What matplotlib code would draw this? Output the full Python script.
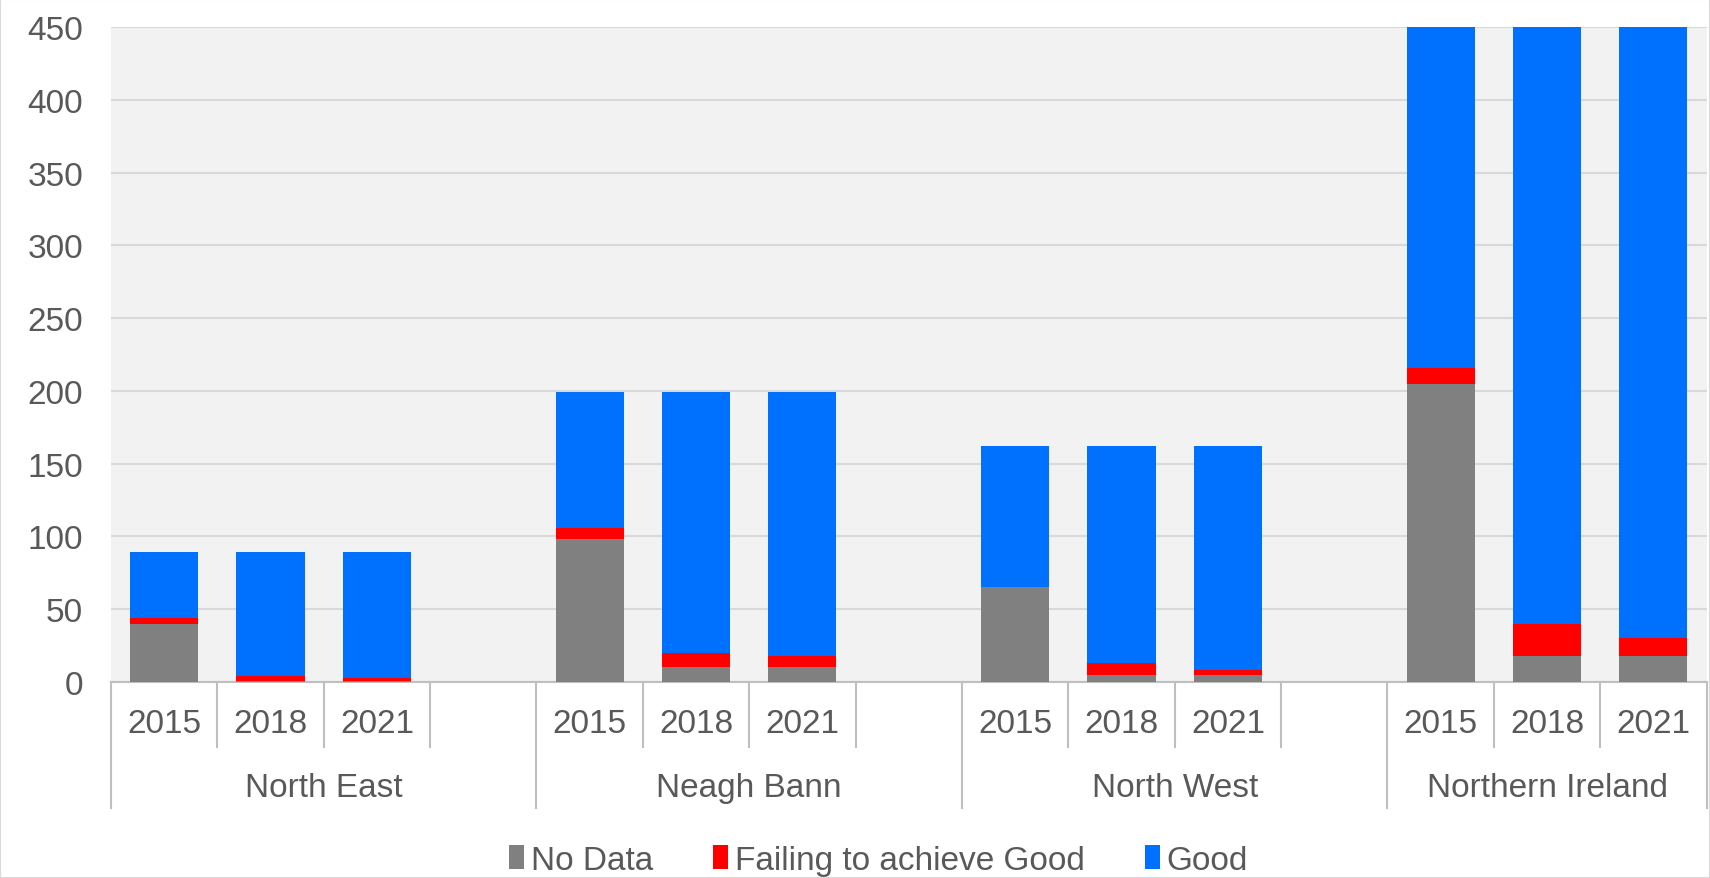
import matplotlib.pyplot as plt
import numpy as np
from matplotlib.transforms import blended_transform_factory
from matplotlib.patches import Rectangle

plt.rcParams['font.family'] = ['Liberation Sans', 'DejaVu Sans']

# groups and years
groups = ['North East', 'Neagh Bann', 'North West', 'Northern Ireland']
years = ['2015', '2018', '2021']
# values per group, per year
no_data = [[40, 1, 1], [98, 10, 10], [65, 5, 5], [205, 18, 18]]
failing = [[4, 3, 1.5], [8, 10, 8], [0, 8, 3], [11, 22, 12]]
good = [[45, 85, 86.5], [93, 179, 181], [97, 149, 154], [234, 410, 420]]

# series colors and labels
colors = ['#808080', '#FF0000', '#0070FF']
labels = ['No Data', 'Failing to achieve Good', 'Good']
text_color = '#595959'
line_color = '#BFBFBF'

fig = plt.figure(figsize=(17.1, 8.79), dpi=100)
fig.patches.append(Rectangle((0, 0), 1, 1, transform=fig.transFigure,
                             fill=False, edgecolor='#D9D9D9', linewidth=1.5))
ax = fig.add_axes([0.0649, 0.223, 0.9331, 0.745])
ax.set_facecolor('#F2F2F2')

# x positions: 4 slots per group, last group has 3
pos = []
for g in range(len(groups)):
    pos.append([g * 4 + k for k in range(len(years))])

for g in range(len(groups)):
    x = np.array(pos[g])
    nd = np.array(no_data[g], dtype=float)
    fl = np.array(failing[g], dtype=float)
    gd = np.array(good[g], dtype=float)
    ax.bar(x, nd, width=0.64, color=colors[0], label=labels[0] if g == 0 else None, zorder=3)
    ax.bar(x, fl, width=0.64, bottom=nd, color=colors[1], label=labels[1] if g == 0 else None, zorder=3)
    ax.bar(x, gd, width=0.64, bottom=nd + fl, color=colors[2], label=labels[2] if g == 0 else None, zorder=3)

ax.set_xlim(-0.5, 14.5)
ax.set_ylim(0, 450)
ax.set_yticks(np.arange(0, 451, 50))
ax.yaxis.grid(True, color='#D9D9D9', linewidth=1.5, zorder=0)
ax.set_axisbelow(True)
ax.tick_params(axis='y', length=0, pad=20, labelsize=24, labelcolor=text_color)
ax.set_xticks([])
for s in ['top', 'right', 'left']:
    ax.spines[s].set_visible(False)
ax.spines['bottom'].set_color(line_color)
ax.spines['bottom'].set_linewidth(1.5)

# hierarchical category axis
tr = blended_transform_factory(ax.transData, ax.transAxes)
for g in range(len(groups)):
    for k in range(len(years)):
        ax.text(pos[g][k], -0.063, years[k], transform=tr, ha='center', va='center',
                fontsize=24, color=text_color)
    start = g * 4 - 0.5
    end = min(g * 4 + 3.5, 14.5)
    ax.text((start + end) / 2, -0.161, groups[g], transform=tr, ha='center', va='center',
            fontsize=24, color=text_color)
    ax.plot([start, start], [0, -0.192], transform=tr, color=line_color, lw=1.5, clip_on=False)
    b = start + 1
    while b < end - 0.01:
        ax.plot([b, b], [0, -0.099], transform=tr, color=line_color, lw=1.5, clip_on=False)
        b += 1
ax.plot([14.5, 14.5], [0, -0.192], transform=tr, color=line_color, lw=1.5, clip_on=False)

leg = ax.legend(loc='center', bbox_to_anchor=(0.481, -0.272), ncol=3, frameon=False,
                fontsize=24, handlelength=0.45, handleheight=0.75, handletextpad=0.2,
                columnspacing=1.8, labelcolor=text_color)

fig.savefig('out.png', dpi=100, facecolor='white')
